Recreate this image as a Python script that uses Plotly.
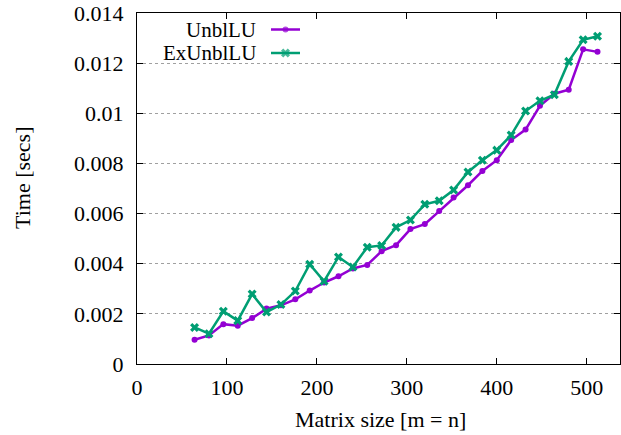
import plotly.graph_objects as go

# matrix sizes m = n
sizes = list(range(64, 513, 16))

unbl_lu = [0.00097, 0.00114, 0.00159, 0.00153, 0.00183, 0.00221, 0.00234, 0.00258,
           0.00293, 0.00325, 0.00350, 0.00381, 0.00395, 0.00450, 0.00474, 0.00538,
           0.00558, 0.00610, 0.00664, 0.00713, 0.00770, 0.00813, 0.00893, 0.00935,
           0.01030, 0.01078, 0.01094, 0.01255, 0.01245]

ex_unbl_lu = [0.00146, 0.00121, 0.00210, 0.00173, 0.00279, 0.00207, 0.00237, 0.00291,
              0.00398, 0.00330, 0.00427, 0.00387, 0.00466, 0.00473, 0.00545, 0.00574,
              0.00637, 0.00651, 0.00694, 0.00766, 0.00813, 0.00853, 0.00913, 0.01009,
              0.01050, 0.01074, 0.01207, 0.01293, 0.01307]

series_names = ["UnblLU", "ExUnblLU"]
y_ticks = [0, 0.002, 0.004, 0.006, 0.008, 0.010, 0.012, 0.014]
y_ticktext = ["0", "0.002", "0.004", "0.006", "0.008", "0.01", "0.012", "0.014"]
x_ticks = [0, 100, 200, 300, 400, 500]

PURPLE = "#9400D3"
GREEN = "#009E73"
FONT = "Liberation Serif"

W, H = 621, 435
L, R, T, B = 137, 1, 13, 71
pw, ph = W - L - R, H - T - B

def px(x):
    return (x - L) / pw

def py(y):
    return (H - B - y) / ph

fig = go.Figure()

styles = [
    dict(color=PURPLE, symbol="circle", size=6),
    dict(color=GREEN, symbol="x", size=8),
]

for name, vals, st in zip(series_names, [unbl_lu, ex_unbl_lu], styles):
    fig.add_trace(go.Scatter(
        x=sizes, y=vals, mode="lines+markers", name=name,
        line=dict(color=st["color"], width=2.5),
        marker=dict(color=st["color"], symbol=st["symbol"], size=st["size"], line=dict(width=0)),
        showlegend=False,
    ))

# gnuplot-style key: text on the left, sample on the right
key_y = [29.5, 53]
shapes = [dict(type="rect", xref="paper", yref="paper", layer="between",
               x0=px(150), x1=px(313), y0=py(67), y1=1.0,
               fillcolor="white", line=dict(width=0))]
annotations = []
for name, st, yk in zip(series_names, styles, key_y):
    annotations.append(dict(x=px(258), y=py(yk), xref="paper", yref="paper",
                            text=name, showarrow=False, xanchor="right", yanchor="middle",
                            font=dict(family=FONT, size=21, color="black")))
    fig.add_trace(go.Scatter(
        x=[px(271), px(285.5), px(300)], y=[py(yk)] * 3, xaxis="x2", yaxis="y2",
        mode="lines+markers", line=dict(color=st["color"], width=2.5),
        marker=dict(color=st["color"], symbol=st["symbol"], size=[0, st["size"], 0], line=dict(width=0)),
        showlegend=False, hoverinfo="skip",
    ))

annotations.append(dict(x=px(380), y=py(419), xref="paper", yref="paper",
                        text="Matrix size [m = n]", showarrow=False,
                        xanchor="center", yanchor="middle",
                        font=dict(family=FONT, size=22, color="black")))
annotations.append(dict(x=px(22), y=py(178), xref="paper", yref="paper",
                        text="Time [secs]", showarrow=False, textangle=-90,
                        xanchor="center", yanchor="middle",
                        font=dict(family=FONT, size=22, color="black")))

fig.update_layout(
    width=W, height=H,
    margin=dict(l=L, r=R, t=T, b=B, autoexpand=False),
    plot_bgcolor="white", paper_bgcolor="white",
    font=dict(family=FONT, size=22, color="black"),
    shapes=shapes, annotations=annotations,
    xaxis=dict(range=[0, 537], tickvals=x_ticks, ticks="inside", ticklen=6,
               tickcolor="black", showline=True, linecolor="black", linewidth=1,
               mirror="allticks", showgrid=False, zeroline=False, ticklabelstandoff=4,
               automargin=False),
    yaxis=dict(range=[0, 0.014], tickvals=y_ticks, ticktext=y_ticktext,
               ticks="inside", ticklen=6, tickcolor="black", showline=True,
               linecolor="black", linewidth=1, mirror="allticks",
               showgrid=True, gridcolor="#a0a0a0", griddash="dot", gridwidth=1,
               zeroline=False, ticklabelstandoff=8, automargin=False),
    xaxis2=dict(overlaying="x", range=[0, 1], visible=False),
    yaxis2=dict(overlaying="y", range=[0, 1], visible=False),
)

fig.write_html("out.html", config={"displayModeBar": False},
               post_script="document.body.style.margin='0';")
